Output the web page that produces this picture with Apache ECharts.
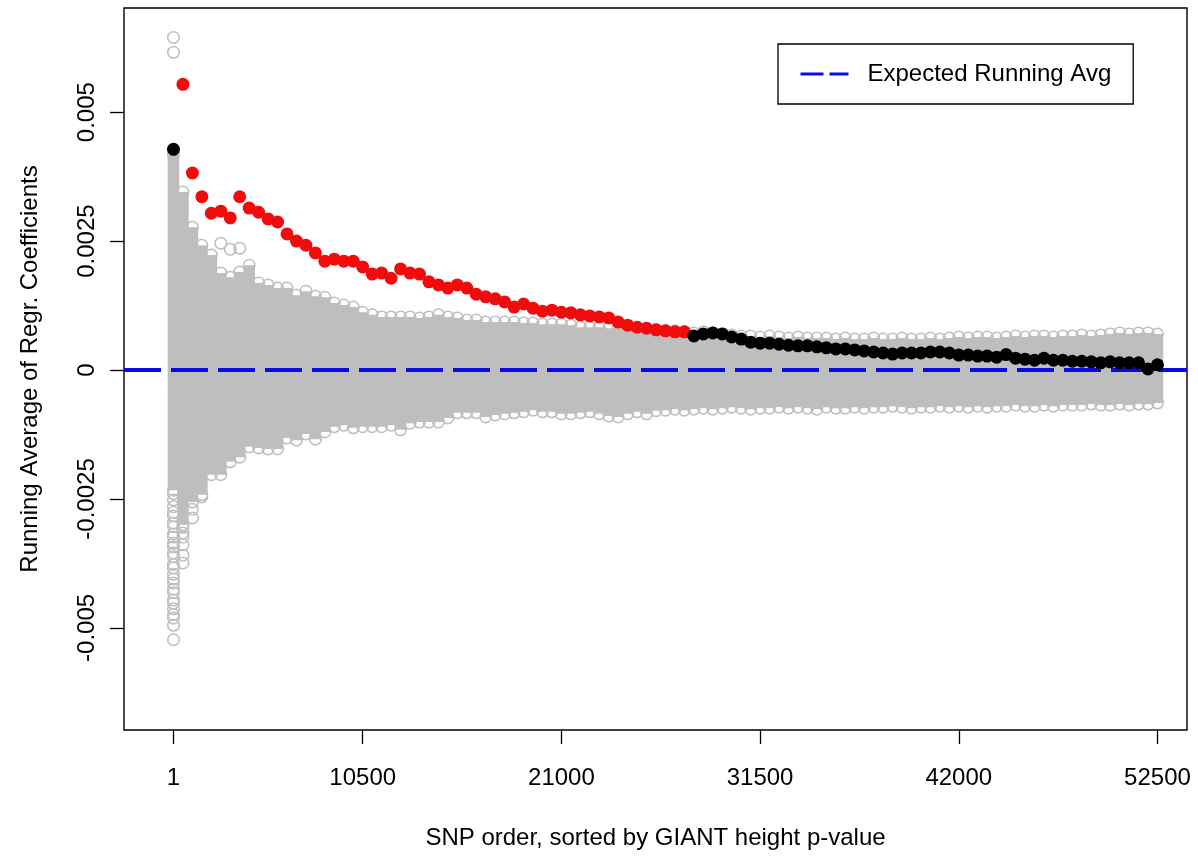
<!DOCTYPE html>
<html>
<head>
<meta charset="utf-8">
<script src="https://cdn.jsdelivr.net/npm/echarts@6/dist/echarts.min.js"></script>
<style>
html,body{margin:0;padding:0;background:#fff;}
#chart{width:1198px;height:856px;}
</style>
</head>
<body>
<div id="chart"></div>
<script>
// ---- data (x = point number; tick labels give SNP order) ----
const xTickPos = [1, 21, 42, 63, 84, 105];
const xTickLabels = ['1', '10500', '21000', '31500', '42000', '52500'];
const yTickVals = [-0.005, -0.0025, 0, 0.0025, 0.005];
const yTickLabels = ['-0.005', '-0.0025', '0', '0.0025', '0.005'];
const expectedAvg = 0;

// observed running average of regression coefficients (points 1..105)
const runningAvg = [
  0.00428, 0.00554, 0.00382, 0.00336, 0.00304, 0.00308, 0.00295, 0.00336, 0.00314, 0.00306,
  0.00293, 0.00287, 0.00264, 0.00250, 0.00242, 0.00227, 0.00211, 0.00215, 0.00211, 0.00211,
  0.00200, 0.00186, 0.00188, 0.00178, 0.00196, 0.00188, 0.00186, 0.00171, 0.00165, 0.00159,
  0.00165, 0.00159, 0.00147, 0.00142, 0.00138, 0.00132, 0.00122, 0.00128, 0.00120, 0.00114,
  0.00116, 0.00112, 0.00111, 0.00107, 0.00105, 0.00103, 0.00101, 0.00093, 0.00087, 0.00083,
  0.00081, 0.00078, 0.00076, 0.00074, 0.00074,
  0.00066, 0.00070, 0.00072, 0.00070, 0.00064, 0.00060, 0.00054, 0.00052, 0.00052, 0.00050,
  0.00048, 0.00047, 0.00047, 0.00045, 0.00043, 0.00041, 0.00041, 0.00039, 0.00037, 0.00035,
  0.00033, 0.00031, 0.00033, 0.00033, 0.00033, 0.00035, 0.00035, 0.00033, 0.00029, 0.00029,
  0.00027, 0.00027, 0.00025, 0.00030, 0.00023, 0.00021, 0.00019, 0.00023, 0.00019, 0.00019,
  0.00017, 0.00017, 0.00016, 0.00014, 0.00016, 0.00014, 0.00014, 0.00014, 0.00002, 0.00010
];
// points (1-based) that are above the permutation cloud
const significantRange = [2, 55];

// permutation cloud: upper and lower edge per point
const upperEnv = [
  0.00417, 0.00345, 0.00277, 0.00242, 0.00223, 0.00188, 0.00180, 0.00190, 0.00203, 0.00169,
  0.00165, 0.00159, 0.00159, 0.00145, 0.00153, 0.00143, 0.00141, 0.00130, 0.00126, 0.00122,
  0.00112, 0.00107, 0.00103, 0.00103, 0.00103, 0.00103, 0.00101, 0.00103, 0.00107, 0.00103,
  0.00101, 0.00097, 0.00097, 0.00093, 0.00093, 0.00093, 0.00093, 0.00091, 0.00091, 0.00089,
  0.00089, 0.00089, 0.00087, 0.00083, 0.00083, 0.00083, 0.00081, 0.00081, 0.00079, 0.00079,
  0.00078, 0.00078, 0.00076, 0.00076, 0.00074, 0.00072, 0.00074, 0.00072, 0.00070, 0.00068,
  0.00066, 0.00066, 0.00064, 0.00066, 0.00064, 0.00062, 0.00064, 0.00062, 0.00062,
  0.00062, 0.00060, 0.00062, 0.00060, 0.00060, 0.00062, 0.00060, 0.00060, 0.00062, 0.00060,
  0.00060, 0.00062, 0.00060, 0.00062, 0.00064, 0.00062, 0.00064, 0.00064, 0.00062, 0.00064,
  0.00066, 0.00064, 0.00066, 0.00066, 0.00064, 0.00066, 0.00066, 0.00068, 0.00066, 0.00068,
  0.00070, 0.00072, 0.00070, 0.00072, 0.00072, 0.00070
];
const lowerEnv = [
  -0.00233, -0.00300, -0.00256, -0.00242, -0.00203, -0.00203, -0.00178, -0.00169, -0.00149, -0.00151,
  -0.00153, -0.00153, -0.00132, -0.00136, -0.00124, -0.00134, -0.00120, -0.00110, -0.00107, -0.00112,
  -0.00110, -0.00110, -0.00110, -0.00107, -0.00116, -0.00103, -0.00101, -0.00101, -0.00101, -0.00093,
  -0.00083, -0.00083, -0.00083, -0.00091, -0.00087, -0.00085, -0.00083, -0.00081, -0.00078, -0.00081,
  -0.00081, -0.00085, -0.00085, -0.00083, -0.00081, -0.00085, -0.00089, -0.00091, -0.00085, -0.00081,
  -0.00085, -0.00079, -0.00078, -0.00076, -0.00078,
  -0.00076, -0.00074, -0.00076, -0.00074, -0.00072, -0.00074, -0.00076, -0.00074, -0.00074, -0.00072,
  -0.00074, -0.00072, -0.00074, -0.00076, -0.00072, -0.00074, -0.00074, -0.00072, -0.00074, -0.00072,
  -0.00072, -0.00070, -0.00072, -0.00074, -0.00072, -0.00072, -0.00070, -0.00072, -0.00070, -0.00072,
  -0.00070, -0.00072, -0.00070, -0.00070, -0.00068, -0.00070, -0.00070, -0.00068, -0.00070, -0.00068,
  -0.00068, -0.00068, -0.00066, -0.00068, -0.00068, -0.00066, -0.00068, -0.00066, -0.00066, -0.00064
];
// isolated permutation values outside the dense cloud: [point, value]
const cloudOutliers = [
  [1, 0.00645], [1, 0.00616],
  [1, -0.00240], [1, -0.00252], [1, -0.00265], [1, -0.00276], [1, -0.00283], [1, -0.00297],
  [1, -0.00304], [1, -0.00318], [1, -0.00324], [1, -0.00336], [1, -0.00343], [1, -0.00355],
  [1, -0.00362], [1, -0.00377], [1, -0.00384], [1, -0.00396], [1, -0.00405], [1, -0.00413],
  [1, -0.00425], [1, -0.00432], [1, -0.00446], [1, -0.00452], [1, -0.00463], [1, -0.00474],
  [1, -0.00481], [1, -0.00495], [1, -0.00523],
  [2, -0.00305], [2, -0.00316], [2, -0.00324], [2, -0.00339], [2, -0.00359], [2, -0.00374],
  [3, -0.00270], [3, -0.00287], [4, -0.00246],
  [6, 0.00246], [7, 0.00234], [8, 0.00236]
];

// ---- build ----
const GRAY = '#bebebe';
const BLUE = '#0b0bdf';
const FONT = 'Liberation Sans';
const pointNo = runningAvg.map((_, k) => k + 1);
const redPts = [], blackPts = [];
pointNo.forEach((x, k) => {
  const p = [x, runningAvg[k]];
  if (x >= significantRange[0] && x <= significantRange[1]) redPts.push(p); else blackPts.push(p);
});
const bandData = pointNo.map((x, k) => [x, upperEnv[k], lowerEnv[k]]);
const edgePts = pointNo.map((x, k) => [x, upperEnv[k]])
  .concat(pointNo.map((x, k) => [x, lowerEnv[k]]))
  .concat(cloudOutliers);

const chart = echarts.init(document.getElementById('chart'), null, {renderer: 'canvas'});
chart.setOption({
  animation: false,
  backgroundColor: '#fff',
  textStyle: {fontFamily: FONT},
  grid: {left: 124, right: 11, top: 8, bottom: 126, show: true, borderColor: '#000', borderWidth: 1.4, backgroundColor: 'transparent'},
  legend: {
    data: ['Expected Running Avg'],
    left: 778, top: 44,
    padding: [18, 22, 18, 21],
    borderColor: '#000', borderWidth: 1.3, borderRadius: 0,
    backgroundColor: '#fff',
    itemWidth: 48, itemHeight: 14,
    itemStyle: {opacity: 0},
    lineStyle: {type: [23, 6], width: 3, color: BLUE, opacity: 1},
    textStyle: {fontSize: 24, color: '#000', fontFamily: FONT, padding: [0, 0, 0, 14]},
    selectedMode: false
  },
  xAxis: {
    type: 'value', min: -4.23, max: 108.12,
    axisLine: {show: false, onZero: false},
    splitLine: {show: false},
    axisTick: {show: true, inside: false, length: 14, customValues: xTickPos, lineStyle: {color: '#000', width: 1.3}},
    axisLabel: {
      customValues: xTickPos,
      formatter: v => xTickLabels[xTickPos.indexOf(v)],
      fontSize: 24, color: '#000', margin: 36, fontFamily: FONT
    },
    name: 'SNP order, sorted by GIANT height p-value',
    nameLocation: 'middle', nameGap: 96,
    nameTextStyle: {fontSize: 24, color: '#000', fontFamily: FONT}
  },
  yAxis: {
    type: 'value', min: -0.00698, max: 0.00702,
    axisLine: {show: false, onZero: false},
    splitLine: {show: false},
    axisTick: {show: true, inside: false, length: 14, customValues: yTickVals, lineStyle: {color: '#000', width: 1.3}},
    axisLabel: {
      customValues: yTickVals,
      formatter: v => { const i = yTickVals.findIndex(t => Math.abs(t - v) < 1e-9); return i >= 0 ? yTickLabels[i] : ''; },
      rotate: 90, fontSize: 24, color: '#000', margin: 25, fontFamily: FONT
    },
    name: 'Running Average of Regr. Coefficients',
    nameLocation: 'middle', nameGap: 82, nameRotate: 90,
    nameTextStyle: {fontSize: 24, color: '#000', fontFamily: FONT}
  },
  series: [
    {
      name: 'cloud', type: 'custom', z: 1, silent: true,
      data: bandData,
      encode: {x: 0, y: [1, 2]},
      renderItem: (params, api) => {
        const top = api.coord([api.value(0), api.value(1)]);
        const bot = api.coord([api.value(0), api.value(2)]);
        const r = 5.8;
        return {type: 'rect', shape: {x: top[0] - r, y: top[1], width: 2 * r, height: bot[1] - top[1]}, style: {fill: GRAY}};
      }
    },
    {
      name: 'cloud edge', type: 'scatter', z: 2, silent: true,
      data: edgePts, symbol: 'circle', symbolSize: 11.5,
      itemStyle: {color: 'rgba(255,255,255,0)', borderColor: GRAY, borderWidth: 1.5, opacity: 1}
    },
    {
      name: 'Expected Running Avg', type: 'line', z: 3, data: [],
      symbol: 'none', color: BLUE,
      lineStyle: {color: BLUE, width: 4, type: [37, 10]},
      markLine: {
        silent: true, symbol: 'none', label: {show: false},
        lineStyle: {color: BLUE, width: 4, type: [37, 10], cap: 'butt', opacity: 1},
        data: [{yAxis: expectedAvg}]
      }
    },
    {
      name: 'signif', type: 'scatter', z: 10, silent: true,
      data: redPts, symbol: 'circle', symbolSize: 13,
      itemStyle: {color: '#ee0c0c', opacity: 1}
    },
    {
      name: 'other', type: 'scatter', z: 10, silent: true,
      data: blackPts, symbol: 'circle', symbolSize: 13,
      itemStyle: {color: '#000', opacity: 1}
    }
  ]
});
</script>
</body>
</html>
